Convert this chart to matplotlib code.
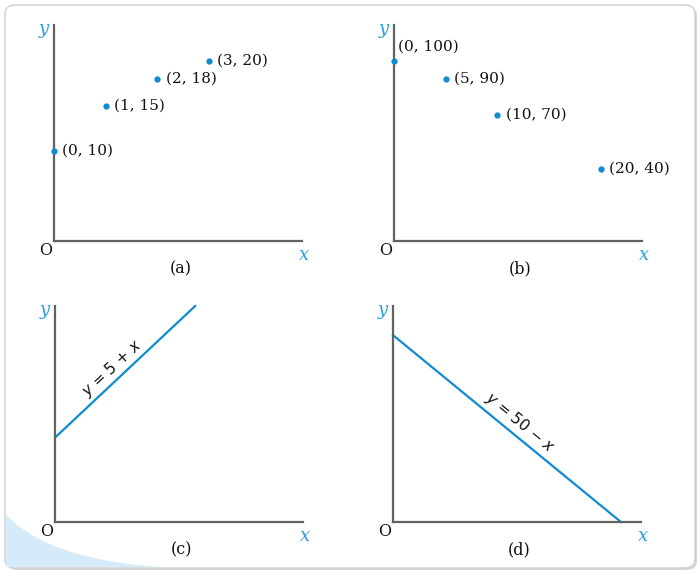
import matplotlib.pyplot as plt
import numpy as np
from matplotlib.patches import FancyBboxPatch, PathPatch
from matplotlib.path import Path

# data
pts_a_x = [0, 1, 2, 3]
pts_a_y = [10, 15, 18, 20]
pts_b_x = [0, 5, 10, 20]
pts_b_y = [100, 90, 70, 40]
line_c_x = [0, 7.8]
line_c_y = [5, 12.8]
line_d_x = [0, 50]
line_d_y = [50, 0]

BLUE = '#0f8bd3'
LBLUE = '#2a9fe0'
AXC = '#626262'
SERIF = 'DejaVu Serif'

W, H = 700, 573
fig = plt.figure(figsize=(W / 100, H / 100), dpi=100)

# background card + swoosh
shadow = FancyBboxPatch((7 / W, 3 / H), 690 / W, 563 / H,
                        boxstyle='round,pad=0,rounding_size=0.015',
                        transform=fig.transFigure, fc='#d8d8d8', ec='none', zorder=-3)
card = FancyBboxPatch((5 / W, 5 / H), 690 / W, 563 / H,
                      boxstyle='round,pad=0,rounding_size=0.015',
                      transform=fig.transFigure, fc='white', ec='#cfcfcf', lw=1, zorder=-2)
fig.patches.extend([shadow, card])
verts = [(6, 515), (40, 550), (100, 563), (160, 567), (6, 567), (6, 515)]
verts = [(x / W, 1 - y / H) for x, y in verts]
codes = [Path.MOVETO, Path.CURVE4, Path.CURVE4, Path.CURVE4, Path.LINETO, Path.CLOSEPOLY]
swoosh = PathPatch(Path(verts, codes), transform=fig.transFigure, fc='#d5ebf9', ec='none', zorder=-1)
fig.patches.append(swoosh)


def make_axes(left_px, bottom_px, xmax, ymax, tag):
    ax = fig.add_axes([left_px / W, 1 - bottom_px / H, 248 / W, 216 / H])
    ax.set_zorder(2)
    ax.set_xlim(0, xmax)
    ax.set_ylim(0, ymax)
    ax.patch.set_alpha(0)
    for s in ['top', 'right']:
        ax.spines[s].set_visible(False)
    for s in ['left', 'bottom']:
        ax.spines[s].set_color(AXC)
        ax.spines[s].set_linewidth(1.6)
    ax.set_xticks([])
    ax.set_yticks([])
    ax.text(-0.04, 0.98, 'y', transform=ax.transAxes, color=LBLUE, fontsize=13,
            family=SERIF, style='italic', ha='center', va='center')
    ax.text(1.01, -0.065, 'x', transform=ax.transAxes, color=LBLUE, fontsize=13,
            family=SERIF, style='italic', ha='center', va='center')
    ax.text(-0.032, -0.045, 'O', transform=ax.transAxes, color='#111111', fontsize=11.5,
            family=SERIF, ha='center', va='center')
    ax.text(0.51, -0.13, tag, transform=ax.transAxes, color='#111111', fontsize=11.5,
            family=SERIF, ha='center', va='center')
    return ax


ax_a = make_axes(54, 241, 4.8, 24, '(a)')
ax_a.plot(pts_a_x, pts_a_y, 'o', color=BLUE, ms=3.5, clip_on=False, zorder=5)
for x, y in zip(pts_a_x, pts_a_y):
    ax_a.annotate(f'({x}, {y})', (x, y), xytext=(6, 0), textcoords='offset points',
                  fontsize=11, family=SERIF, va='center', ha='left', color='#111111')

ax_b = make_axes(394, 241, 24, 120, '(b)')
ax_b.plot(pts_b_x, pts_b_y, 'o', color=BLUE, ms=3.5, clip_on=False, zorder=5)
for i, (x, y) in enumerate(zip(pts_b_x, pts_b_y)):
    off = (3, 10) if i == 0 else (6, 0)
    ax_b.annotate(f'({x}, {y})', (x, y), xytext=off, textcoords='offset points',
                  fontsize=11, family=SERIF, va='center', ha='left', color='#111111')

ax_c = make_axes(55, 522, 13.8, 12.8, '(c)')
ax_c.plot(line_c_x, line_c_y, color=BLUE, lw=1.6, clip_on=False)
ax_c.text(3.2, 9.1, r'$y$ = 5 + $x$', rotation=43, fontsize=11, ha='center', va='center',
          rotation_mode='anchor', color='#111111')

ax_d = make_axes(393, 522, 54.4, 57.8, '(d)')
ax_d.plot(line_d_x, line_d_y, color=BLUE, lw=1.6, clip_on=False)
ax_d.text(27.9, 26.5, r'$y$ = 50 $-$ $x$', rotation=-39.5, fontsize=11, ha='center', va='center',
          rotation_mode='anchor', color='#111111')

plt.savefig('out.png', dpi=100)
